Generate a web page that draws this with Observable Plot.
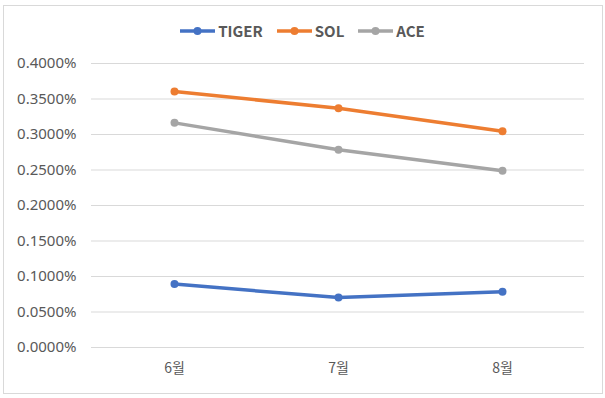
<!DOCTYPE html>
<html>
<head>
<meta charset="utf-8">
<script src="https://cdn.jsdelivr.net/npm/d3@7"></script>
<script src="https://cdn.jsdelivr.net/npm/@observablehq/plot@0.6"></script>
<style>
  html, body { margin: 0; padding: 0; background: #fff; }
  #wrap { position: relative; width: 605px; height: 398px; font-family: "Noto Sans CJK KR", "Noto Sans", sans-serif; }
  #frame { position: absolute; left: 3px; top: 5px; width: 600px; height: 389px; border: 1px solid #d9d9d9; box-sizing: border-box; }
  #legend { position: absolute; top: 20px; left: 0; width: 605px; display: flex; justify-content: center; align-items: center; font-weight: bold; font-size: 15px; color: #595959; }
  .item { display: flex; align-items: center; margin: 0 7px; }
  .item svg { margin-right: 3px; }
  #chart { position: absolute; left: 0; top: 0; }
</style>
</head>
<body>
<div id="wrap">
  <div id="frame"></div>
  <div id="chart"></div>
  <div id="legend"></div>
</div>
<script>
const months = ["6월", "7월", "8월"];
const seriesNames = ["TIGER", "SOL", "ACE"];
const seriesColors = ["#4472C4", "#ED7D31", "#A5A5A5"];
const tiger = [0.000893, 0.000703, 0.000786];
const sol = [0.003606, 0.003369, 0.003046];
const ace = [0.003164, 0.002784, 0.002490];
const yTicks = [0, 0.0005, 0.001, 0.0015, 0.002, 0.0025, 0.003, 0.0035, 0.004];

const valuesBySeries = [tiger, sol, ace];
const data = [];
seriesNames.forEach((s, i) => {
  months.forEach((m, j) => data.push({ series: s, month: m, value: valuesBySeries[i][j] }));
});

const fmt = d3.format(".4%");

const chart = Plot.plot({
  width: 605,
  height: 398,
  marginTop: 63,
  marginBottom: 51,
  marginLeft: 91,
  marginRight: 21,
  style: { fontFamily: "'Noto Sans CJK KR', 'Noto Sans', sans-serif", background: "transparent" },
  x: { type: "point", domain: months, padding: 0.5, label: null },
  y: { domain: [0, 0.004], label: null },
  color: { domain: seriesNames, range: seriesColors },
  marks: [
    Plot.gridY(yTicks, { stroke: "#d9d9d9", strokeOpacity: 1, strokeWidth: 1 }),
    Plot.axisY(yTicks, { tickSize: 0, tickPadding: 15, tickFormat: fmt, fontSize: 15, fontFamily: "'Noto Sans', sans-serif", fill: "#595959", label: null }),
    Plot.axisX({ tickSize: 0, tickPadding: 16, fontSize: 14, fill: "#595959", label: null }),
    Plot.line(data, { x: "month", y: "value", stroke: "series", z: "series", strokeWidth: 3.5 }),
    Plot.dot(data, { x: "month", y: "value", fill: "series", r: 4 })
  ]
});
document.getElementById("chart").appendChild(chart);

const legend = document.getElementById("legend");
seriesNames.forEach((s, i) => {
  const item = document.createElement("div");
  item.className = "item";
  item.innerHTML = `<svg width="35" height="12"><line x1="0" y1="6" x2="35" y2="6" stroke="${seriesColors[i]}" stroke-width="3.5"/><circle cx="17.5" cy="6" r="4" fill="${seriesColors[i]}"/></svg><span>${s}</span>`;
  legend.appendChild(item);
});
</script>
</body>
</html>
